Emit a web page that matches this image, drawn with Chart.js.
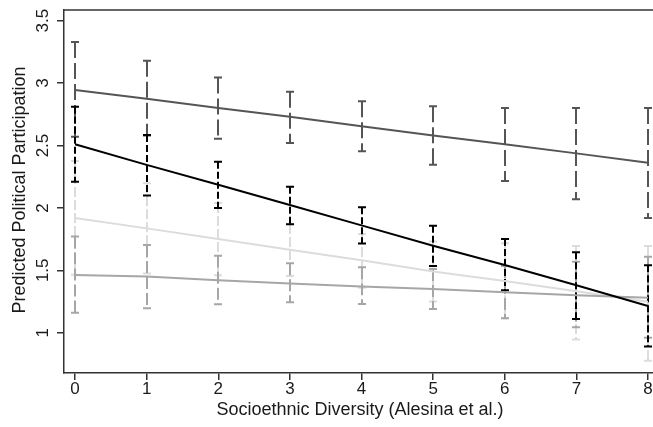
<!doctype html>
<html lang="en">
<head>
  <meta charset="utf-8">
  <title>Predicted Political Participation</title>
  <script src="https://cdn.jsdelivr.net/npm/chart.js@4/dist/chart.umd.min.js"></script>
  <style>
    body { margin: 0; background: #fff; }
  </style>
</head>
<body>
<canvas id="myChart" width="653" height="427"></canvas>

<script>
// diversity values on the x axis
var diversity = [0, 1, 2, 3, 4, 5, 6, 7, 8];
var xTicks = [0, 1, 2, 3, 4, 5, 6, 7, 8];
var yTicks = [1, 1.5, 2, 2.5, 3, 3.5];
var yTickLabels = ['1', '1.5', '2', '2.5', '3', '3.5'];

// predicted values (lines)
var darkLine   = [2.945, 2.875, 2.80, 2.73, 2.655, 2.58, 2.51, 2.437, 2.362];
var blackLine  = [2.51, 2.345, 2.185, 2.023, 1.86, 1.697, 1.543, 1.38, 1.214];
var lightLine  = [1.92, 1.836, 1.75, 1.665, 1.58, 1.49, 1.415, 1.332, 1.248];
var mediumLine = [1.462, 1.45, 1.42, 1.395, 1.37, 1.35, 1.325, 1.30, 1.28];

// confidence intervals (low / high)
var darkLow    = [2.57, 2.58, 2.555, 2.52, 2.455, 2.345, 2.215, 2.07, 1.92];
var darkHigh   = [3.33, 3.18, 3.045, 2.93, 2.855, 2.815, 2.80, 2.80, 2.80];
var blackLow   = [2.21, 2.10, 2.00, 1.87, 1.715, 1.535, 1.34, 1.11, 0.89];
var blackHigh  = [2.81, 2.585, 2.37, 2.17, 2.005, 1.857, 1.75, 1.645, 1.54];
var lightLow   = [1.465, 1.475, 1.46, 1.455, 1.36, 1.25, 1.115, 0.945, 0.775];
var lightHigh  = [2.375, 2.197, 2.04, 1.871, 1.79, 1.73, 1.716, 1.695, 1.695];
var mediumLow  = [1.16, 1.195, 1.228, 1.244, 1.23, 1.19, 1.115, 1.044, 0.96];
var mediumHigh = [1.77, 1.703, 1.616, 1.556, 1.524, 1.51, 1.535, 1.569, 1.609];

var xTitle = 'Socioethnic Diversity (Alesina et al.)';
var yTitle = 'Predicted Political Participation';
</script>

<script>
var TICK_FONT = '17px "Liberation Sans", Arial, sans-serif';
var TITLE_FONT = '18px "Liberation Sans", Arial, sans-serif';
var AXIS = '#333333';

function pts(ys) {
  return diversity.map(function (x, i) { return {x: x, y: ys[i]}; });
}

// drawn in this order, last one on top
var bars = [
  {low: lightLow,  high: lightHigh,  color: '#dcdcdc', dash: [10, 3]},
  {low: mediumLow, high: mediumHigh, color: '#a6a6a6', dash: [12, 4]},
  {low: darkLow,   high: darkHigh,   color: '#555555', dash: [16, 5]},
  {low: blackLow,  high: blackHigh,  color: '#000000', dash: [7, 3]},
];

var errorBars = {
  id: 'errorBars',
  beforeDatasetsDraw: function (chart) {
    var ctx = chart.ctx, a = chart.chartArea;
    var xs = chart.scales.x, ys = chart.scales.y;
    ctx.save();
    ctx.beginPath();
    ctx.rect(a.left, a.top, a.right - a.left, a.bottom - a.top);
    ctx.clip();
    bars.forEach(function (b) {
      ctx.strokeStyle = b.color;
      ctx.lineWidth = 2;
      diversity.forEach(function (xv, i) {
        var px = Math.round(xs.getPixelForValue(xv));
        var top = ys.getPixelForValue(b.high[i]);
        var bot = ys.getPixelForValue(b.low[i]);
        ctx.setLineDash(b.dash);
        ctx.beginPath();
        ctx.moveTo(px, top);
        ctx.lineTo(px, bot);
        ctx.stroke();
        ctx.setLineDash([]);
        ctx.beginPath();
        ctx.moveTo(px - 4, top); ctx.lineTo(px + 4, top);
        ctx.moveTo(px - 4, bot); ctx.lineTo(px + 4, bot);
        ctx.stroke();
      });
    });
    ctx.restore();
  },
  afterDraw: function (chart) {
    var ctx = chart.ctx, a = chart.chartArea;
    var xs = chart.scales.x, ys = chart.scales.y;
    ctx.save();
    // top frame line
    ctx.strokeStyle = AXIS;
    ctx.lineWidth = 1.5;
    ctx.beginPath();
    ctx.moveTo(a.left, a.top);
    ctx.lineTo(a.right, a.top);
    ctx.stroke();

    ctx.fillStyle = '#1a1a1a';
    ctx.textAlign = 'center';
    ctx.textBaseline = 'middle';
    ctx.font = TICK_FONT;
    xTicks.forEach(function (v) {
      ctx.fillText(String(v), xs.getPixelForValue(v), 389);
    });
    yTicks.forEach(function (v, i) {
      ctx.save();
      ctx.translate(43, ys.getPixelForValue(v));
      ctx.rotate(-Math.PI / 2);
      ctx.fillText(yTickLabels[i], 0, 0);
      ctx.restore();
    });

    ctx.font = TITLE_FONT;
    ctx.fillText(xTitle, 360, 410);
    ctx.save();
    ctx.translate(20, 190);
    ctx.rotate(-Math.PI / 2);
    ctx.fillText(yTitle, 0, 0);
    ctx.restore();
    ctx.restore();
  }
};

var lineStyle = {borderWidth: 2, pointRadius: 0, fill: false, tension: 0};

var ctx = document.getElementById('myChart').getContext('2d');
var myChart = new Chart(ctx, {
  type: 'line',
  data: {
    datasets: [
      Object.assign({label: 'black', data: pts(blackLine), borderColor: '#000000'}, lineStyle),
      Object.assign({label: 'dark', data: pts(darkLine), borderColor: '#555555'}, lineStyle),
      Object.assign({label: 'medium', data: pts(mediumLine), borderColor: '#a6a6a6'}, lineStyle),
      Object.assign({label: 'light', data: pts(lightLine), borderColor: '#dcdcdc'}, lineStyle),
    ]
  },
  plugins: [errorBars],
  options: {
    responsive: false,
    animation: false,
    layout: {padding: {top: 10, left: 0, right: 0, bottom: 0}},
    plugins: {legend: {display: false}, tooltip: {enabled: false}},
    scales: {
      x: {
        type: 'linear',
        min: -0.154,
        max: 8.07,
        afterBuildTicks: function (s) { s.ticks = xTicks.map(function (v) { return {value: v}; }); },
        afterFit: function (s) { s.height = 54; },
        ticks: {display: false},
        grid: {drawOnChartArea: false, drawTicks: true, tickLength: 7, tickColor: AXIS, lineWidth: 1.5},
        border: {display: true, color: AXIS, width: 1.5}
      },
      y: {
        min: 0.677,
        max: 3.586,
        afterBuildTicks: function (s) { s.ticks = yTicks.map(function (v) { return {value: v}; }); },
        afterFit: function (s) { s.width = 64; },
        ticks: {display: false},
        grid: {drawOnChartArea: false, drawTicks: true, tickLength: 7, tickColor: AXIS, lineWidth: 1.5},
        border: {display: true, color: AXIS, width: 1.5}
      }
    }
  }
});
</script>
</body>
</html>
